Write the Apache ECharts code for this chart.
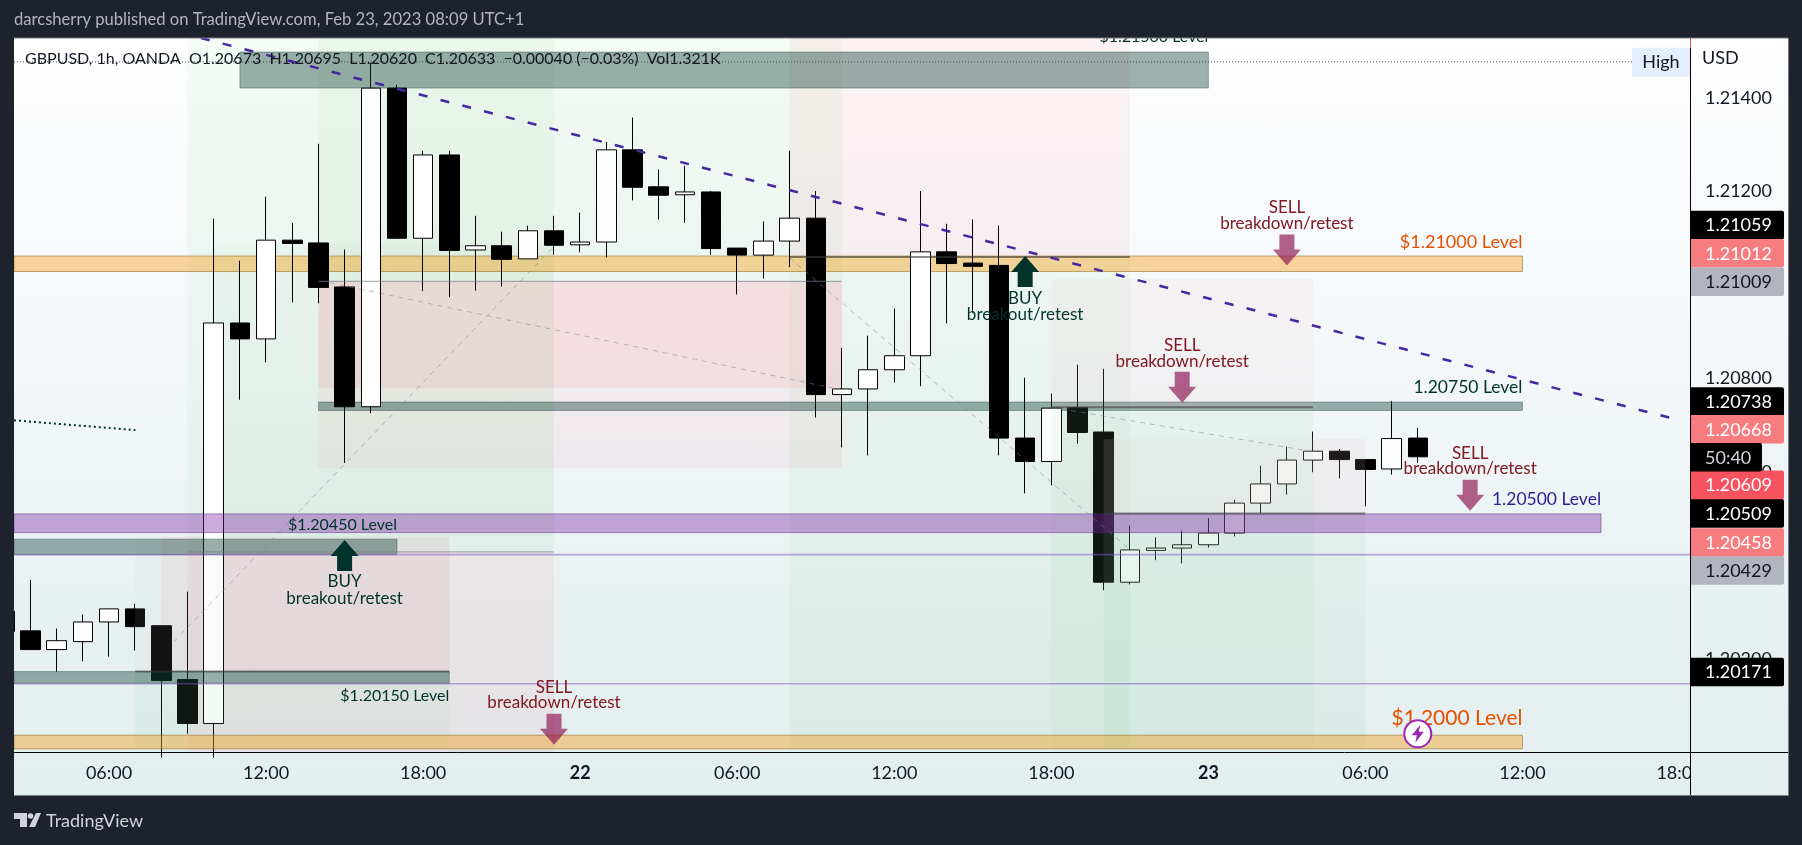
<!DOCTYPE html>
<html>
<head>
<meta charset="utf-8">
<script src="https://cdn.jsdelivr.net/npm/echarts@6/dist/echarts.min.js"></script>
<style>
html,body{margin:0;padding:0;width:1802px;height:845px;background:#1e222d;overflow:hidden}
#panel{position:absolute;left:14px;top:38px;width:1774px;height:757px;background:linear-gradient(180deg,#ffffff 0%,#fbfcfd 12%,#f3f7fa 45%,#e8f1f2 75%,#e3eeef 100%)}
#chart{position:absolute;left:-48px;top:0;width:1850px;height:845px}
</style>
</head>
<body>
<div id="panel"></div>
<div id="chart"></div>
<script>
// hour offset from Feb 21 00:00 UTC+1, open, close, low, high
const candles = [
[2,1.20303,1.20260,1.20260,1.20303],[3,1.20261,1.20221,1.20221,1.20370],[4,1.20221,1.20240,1.20174,1.20266],
[5,1.20238,1.20280,1.20196,1.20296],[6,1.20280,1.20308,1.20206,1.20308],[7,1.20308,1.20270,1.20219,1.20319],
[8,1.20272,1.20155,1.19990,1.20272],[9,1.20157,1.20063,1.20041,1.20345],[10,1.20063,1.20919,1.19990,1.21142],
[11,1.20919,1.20885,1.20755,1.21052],[12,1.20885,1.21096,1.20835,1.21189],[13,1.21096,1.21089,1.20963,1.21133],
[14,1.21090,1.20995,1.20961,1.21302],[15,1.20996,1.20740,1.20620,1.21076],[16,1.20740,1.21421,1.20726,1.21475],
[17,1.21421,1.21100,1.21100,1.21428],[18,1.21100,1.21278,1.20987,1.21287],[19,1.21278,1.21074,1.20974,1.21287],
[20,1.21075,1.21084,1.20988,1.21148],[21,1.21084,1.21055,1.20997,1.21114],[22,1.21056,1.21116,1.21056,1.21127],
[23,1.21116,1.21085,1.21065,1.21148],[24,1.21086,1.21092,1.21070,1.21155],[25,1.21092,1.21289,1.21059,1.21306],
[26,1.21289,1.21209,1.21181,1.21358],[27,1.21210,1.21192,1.21140,1.21247],[28,1.21193,1.21199,1.21133,1.21255],
[29,1.21199,1.21078,1.21065,1.21201],[30,1.21079,1.21064,1.20980,1.21079],[31,1.21064,1.21094,1.21014,1.21136],
[32,1.21094,1.21143,1.21038,1.21287],[33,1.21143,1.20766,1.20717,1.21201],[34,1.20766,1.20778,1.20653,1.20866],
[35,1.20778,1.20819,1.20636,1.20892],[36,1.20819,1.20849,1.20792,1.20950],[37,1.20849,1.21071,1.20784,1.21201],
[38,1.21071,1.21046,1.20918,1.21131],[39,1.21047,1.21040,1.20941,1.21140],[40,1.21042,1.20673,1.20636,1.21127],
[41,1.20673,1.20623,1.20555,1.20802],[42,1.20623,1.20737,1.20572,1.20768],[43,1.20738,1.20685,1.20661,1.20830],
[44,1.20686,1.20365,1.20348,1.20821],[45,1.20365,1.20434,1.20360,1.20486],[46,1.20433,1.20438,1.20412,1.20461],
[47,1.20438,1.20445,1.20405,1.20475],[48,1.20445,1.20470,1.20439,1.20502],[49,1.20470,1.20534,1.20463,1.20541],
[50,1.20534,1.20575,1.20513,1.20614],[51,1.20575,1.20626,1.20552,1.20655],[52,1.20626,1.20645,1.20600,1.20687],
[53,1.20645,1.20627,1.20587,1.20650],[54,1.20627,1.20606,1.20527,1.20627],[55,1.20607,1.20672,1.20595,1.20752],
[56,1.20673,1.20633,1.20620,1.20695]
];
const timeLabels = ['21','06:00','12:00','18:00','22','06:00','12:00','18:00','23','06:00','12:00','18:00'];
const priceStep = 0.002;
const priceMin = 1.2, priceMax = 1.21528, hourMin = 0, hourMax = 66.4, leftHour = 2.37;

// [hourFrom, hourTo, priceTop, priceBottom]
const greenUnder = [[9,23,1.21528,1.20430],[14,34,1.21528,1.21008],[32,45,1.21060,1.20009]];
const greenSoft = [[10,23,1.21087,1.20462]];
const pinkUnder = [[9,23,1.20430,1.20000],[14,34,1.21008,1.20608],[32,45,1.21528,1.21060],[8,19,1.20462,1.20174]];
const pinkStrong = [[14,34,1.21008,1.20780]];
const greenOver = [[42,52,1.20739,1.20009],[44,54,1.20512,1.20009],[7,19,1.20174,1.20009]];
const pinkOver = [[42,52,1.21013,1.20739],[44,54,1.20671,1.20512]];
const grayOver = [[7,19,1.20462,1.20174]];
const bandsUnder = [[14,60,1.20750,1.20732]];
const darkBands = [[11,48,1.21498,1.21421],[leftHour,17,1.20457,1.20424],[leftHour,19,1.20174,1.20149]];
const orangeUnder = [[leftHour,60,1.21062,1.21029]];
const orangeBands = [[leftHour,60,1.20038,1.20009]];
const purpleBands = [[leftHour,63,1.20511,1.20471]];

// [hourFrom, priceFrom, hourTo, priceTo]
const purpleLines = [[leftHour,1.20424,hourMax,1.20424],[leftHour,1.20148,hourMax,1.20148]];
const highLine = [[leftHour,1.21477,64.2,1.21477]];
const dottedLine = [[leftHour,1.20711,7.01,1.20690]];
const trendLine = [[9.51,1.21528,65.94,1.20712]];
const pathLines = [[8.48,1.20238,23,1.21083],[14.44,1.21005,33.64,1.20780],[32,1.21058,45,1.20435],[42,1.20739,52,1.20644]];
const entryLines = [[9,1.20430,23,1.20430],[14,1.21008,34,1.21008]];
const entryLinesDark = [[32,1.21060,45,1.21060],[42,1.20739,52,1.20739],[44,1.20512,54,1.20512],[7,1.20174,19,1.20174]];

// [hour, price, text]
const sellTexts = [[51,1.21166,'SELL'],[51,1.21131,'breakdown/retest'],[47,1.20871,'SELL'],[47,1.20837,'breakdown/retest'],
[23,1.20141,'SELL'],[23,1.20107,'breakdown/retest'],[58,1.20641,'SELL'],[58,1.20607,'breakdown/retest']];
const buyTexts = [[41,1.20972,'BUY'],[41,1.20938,'breakout/retest'],[15,1.20366,'BUY'],[15,1.20331,'breakout/retest']];
const sellArrows = [[51,1.21108],[47,1.20815],[23,1.20084],[58,1.20584]];
const buyArrows = [[41,1.21062],[15,1.20455]];
// [hour at right end, price, text]
const greenLevels = [[48,1.21531,'$1.21500 Level'],[17,1.20488,'$1.20450 Level'],[19,1.20123,'$1.20150 Level']];
const greenLevelsBig = [[60,1.20781,'1.20750 Level']];
const orangeLevels = [[60,1.21091,'$1.21000 Level']];
const orangeBigLevels = [[60,1.20075,'$1.2000 Level']];
const purpleLevels = [[63,1.20541,'1.20500 Level']];
const boltMark = [[56,1.20041]];

// [price position in the scale column, text]
const blackTags = [[1.21128,'1.21059'],[1.20751,'1.20738'],[1.20512,'1.20509'],[1.20173,'1.20171']];
const salmonTags = [[1.21068,'1.21012'],[1.20692,'1.20668'],[1.20450,'1.20458']];
const redTags = [[1.20573,'1.20609']];
const grayTags = [[1.21007,'1.21009'],[1.20390,'1.20429']];
const timerTags = [[1.20632,'50:40']];

const headerText = 'darcsherry published on TradingView.com, Feb 23, 2023 08:09 UTC+1';
const legendText = 'GBPUSD, 1h, OANDA  O1.20673  H1.20695  L1.20620  C1.20633  −0.00040 (−0.03%)  Vol1.321K';

const FONT = 'Lato, "Noto Sans", sans-serif';
const chart = echarts.init(document.getElementById('chart'), null, {renderer:'canvas', width:1850, height:845});

function rects(name, data, fill, stroke, z){
  return {name, type:'custom', data, z, coordinateSystem:'cartesian2d', clip:true, silent:true,
    encode:{x:[0,1],y:[2,3]},
    renderItem(p, api){
      const a=api.coord([api.value(0),api.value(2)]), b=api.coord([api.value(1),api.value(3)]);
      return {type:'rect',shape:{x:a[0],y:a[1],width:b[0]-a[0],height:b[1]-a[1]},
        style:{fill,stroke:stroke||null,lineWidth:stroke?1:0}};
    }};
}
function lines(name, data, stroke, width, dash, z){
  return {name, type:'custom', data, z, clip:true, silent:true, encode:{x:[0,2],y:[1,3]},
    renderItem(p, api){
      const a=api.coord([api.value(0),api.value(1)]), b=api.coord([api.value(2),api.value(3)]);
      return {type:'line',shape:{x1:a[0],y1:a[1],x2:b[0],y2:b[1]},style:{stroke,lineWidth:width,lineDash:dash||null,fill:null}};
    }};
}
function texts(name, data, fill, size, align, z){
  return {name, type:'custom', data, z, clip:false, silent:true, encode:{x:0,y:1},
    renderItem(p, api){
      const a=api.coord([api.value(0),api.value(1)]);
      return {type:'text',style:{x:a[0],y:a[1],text:data[p.dataIndex][2],fill,font:size+'px '+FONT,align,verticalAlign:'middle'}};
    }};
}
function arrows(name, data, fill, up, z){
  return {name, type:'custom', data, z, clip:false, silent:true, encode:{x:0,y:1},
    renderItem(p, api){
      const a=api.coord([api.value(0),api.value(1)]), x=a[0], y=a[1];
      const pts = up
        ? [[x,y],[x+14,y+16],[x+7.5,y+16],[x+7.5,y+31],[x-7.5,y+31],[x-7.5,y+16],[x-14,y+16]]
        : [[x-7.5,y],[x+7.5,y],[x+7.5,y+15],[x+14,y+15],[x,y+31],[x-14,y+15],[x-7.5,y+15]];
      return {type:'polygon',shape:{points:pts},style:{fill}};
    }};
}
function tags(name, data, fill, color, width, z){
  return {name, type:'custom', data:data.map(d=>[hourMax,d[0],d[1]]), z, clip:false, silent:true, encode:{x:0,y:1},
    renderItem(p, api){
      const a=api.coord([api.value(0),api.value(1)]);
      return {type:'group',children:[
        {type:'rect',shape:{x:a[0],y:a[1]-14.3,width,height:28.6,r:[0,2,2,0]},style:{fill}},
        {type:'text',style:{x:a[0]+15,y:a[1]+0.5,text:data[p.dataIndex][1],fill:color,font:'18px '+FONT,verticalAlign:'middle',align:'left'}}
      ]};
    }};
}

const option = {
  animation:false,
  backgroundColor:'transparent',
  grid:{left:0,right:112,top:38,bottom:92,containLabel:false},
  xAxis:{type:'value',min:hourMin,max:hourMax,interval:6,splitLine:{show:false},
    axisLine:{show:false},axisTick:{show:false},
    axisLabel:{margin:11,showMinLabel:false,showMaxLabel:false,hideOverlap:false,color:'#131722',fontFamily:FONT,fontSize:18,
      formatter(v){const s=timeLabels[v/6]; if(!s) return ''; return s.length<3?'{d|'+s+'}':s;},
      rich:{d:{fontWeight:'bold',fontFamily:FONT,fontSize:18,color:'#131722'}}}},
  yAxis:{type:'value',position:'right',min:priceMin,max:priceMax,interval:priceStep,scale:true,splitLine:{show:false},
    axisLine:{show:true,onZero:false,lineStyle:{color:'#000',width:1}},axisTick:{show:false},
    axisLabel:{margin:15,showMinLabel:false,showMaxLabel:false,color:'#131722',fontFamily:FONT,fontSize:18,
      formatter:v=>v.toFixed(5)}},
  series:[
    rects('greenUnder',greenUnder,'rgba(76,175,80,0.055)',null,1),
    rects('greenSoft',greenSoft,'rgba(76,175,80,0.035)',null,1),
    rects('pinkUnder',pinkUnder,'rgba(242,54,69,0.06)',null,1),
    rects('pinkStrong',pinkStrong,'rgba(242,54,69,0.08)',null,1),
    rects('bandsUnder',bandsUnder,'rgba(0,51,42,0.38)','rgba(0,51,42,0.35)',1),
    rects('orangeUnder',orangeUnder,'rgba(245,150,0,0.38)','rgba(150,110,40,0.6)',1),
    {name:'GBPUSD',type:'candlestick',data:candles,z:2,barWidth:20,silent:true,
      encode:{x:0,y:[1,2,3,4]},
      itemStyle:{color:'#ffffff',color0:'#000000',borderColor:'#000000',borderColor0:'#000000',borderWidth:1}},
    rects('greenOver',greenOver,'rgba(150,210,165,0.11)',null,3),
    rects('pinkOver',pinkOver,'rgba(228,195,190,0.13)',null,3),
    rects('grayOver',grayOver,'rgba(190,195,190,0.09)',null,3),
    rects('darkBands',darkBands,'rgba(0,51,42,0.38)','rgba(0,51,42,0.35)',4),
    rects('orangeBands',orangeBands,'rgba(245,150,0,0.38)','rgba(150,110,40,0.6)',4),
    rects('purpleBands',purpleBands,'rgba(123,31,162,0.38)','rgba(90,40,130,0.5)',4),
    lines('purpleLines',purpleLines,'rgba(126,87,194,0.5)',1.6,null,5),
    lines('high',highLine,'#444',1,[1,2],5),
    lines('dotted',dottedLine,'#00332a',2,[2,3],5),
    lines('paths',pathLines,'rgba(120,135,140,0.55)',1,[5,5],5),
    lines('entry',entryLines,'rgba(120,123,134,0.6)',1.2,null,5),
    lines('entryDark',entryLinesDark,'rgba(60,60,60,0.6)',2,null,5),
    lines('trend',trendLine,'#4527a0',2.5,[9,13.5],6),
    texts('sell',sellTexts,'#801922',17,'center',7),
    texts('buy',buyTexts,'#00332a',17,'center',7),
    arrows('sellArrows',sellArrows,'rgba(136,14,79,0.65)',false,7),
    arrows('buyArrows',buyArrows,'#00332a',true,7),
    texts('greenLevels',greenLevels,'#00332a',16,'right',7),
    texts('greenLevelsBig',greenLevelsBig,'#00332a',17.5,'right',7),
    texts('orangeLevels',orangeLevels,'#e65100',18,'right',7),
    texts('orangeBig',orangeBigLevels,'#e65100',21,'right',7),
    texts('purpleLevels',purpleLevels,'#311b92',17.5,'right',7),
    {name:'bolt',type:'custom',data:boltMark,z:8,clip:false,silent:true,encode:{x:0,y:1},
      renderItem(p,api){
        const a=api.coord([api.value(0),api.value(1)]),x=a[0],y=a[1];
        return {type:'group',children:[
          {type:'circle',shape:{cx:x,cy:y,r:13.5},style:{fill:'#ffffff',stroke:'#9c27b0',lineWidth:2}},
          {type:'polygon',shape:{points:[[x+2.5,y-9],[x-6,y+1.5],[x-1,y+1.5],[x-2.5,y+9],[x+6,y-2],[x+1,y-2]]},style:{fill:'#9c27b0'}}
        ]};
      }},
    tags('blackTags',blackTags,'#000000','#ffffff',94,10),
    tags('salmonTags',salmonTags,'#f77c80','#ffffff',94,10),
    tags('redTags',redTags,'#f7525f','#ffffff',94,10),
    tags('grayTags',grayTags,'#b2b5be','#131722',94,10),
    tags('timer',timerTags,'#000000','#d1d4dc',72,11)
  ],
  graphic:{elements:[{type:'group',x:48,children:[
    {type:'rect',z:1000,shape:{x:-48,y:0,width:62,height:845},style:{fill:'#1e222d'}},
    {type:'rect',z:1000,shape:{x:-48,y:0,width:1850,height:38},style:{fill:'#1e222d'}},
    {type:'rect',z:1000,shape:{x:1690.5,y:753,width:97.5,height:42},style:{fill:'#e4eeef'}},
    {type:'rect',z:1000,shape:{x:1788,y:0,width:14,height:845},style:{fill:'#1e222d'}},
    {type:'line',z:1001,shape:{x1:14,y1:752.5,x2:1788,y2:752.5},style:{stroke:'#000',lineWidth:1}},
    {type:'line',z:1001,shape:{x1:1690.5,y1:38,x2:1690.5,y2:795},style:{stroke:'#000',lineWidth:1}},
    {type:'line',z:1002,shape:{x1:1690.5,y1:38,x2:1690.5,y2:48},style:{stroke:'#f7525f',lineWidth:1}},
    {type:'rect',z:1001,shape:{x:14,y:795,width:1774,height:1},style:{fill:'#787b86'}},
    {type:'rect',z:1001,shape:{x:14,y:37.5,width:1774,height:1},style:{fill:'#787b86'}},
    {type:'rect',z:1001,shape:{x:1788,y:38,width:1,height:758},style:{fill:'#787b86'}},
    {type:'text',z:1002,style:{x:14,y:20,text:headerText,fill:'#b2b5be',font:'16.6px '+FONT,verticalAlign:'middle'}},
    {type:'text',z:1002,style:{x:25,y:59,text:legendText,fill:'#131722',font:'16px '+FONT,verticalAlign:'middle'}},
    {type:'rect',z:1002,shape:{x:1632,y:47.7,width:58,height:29,r:[2,0,0,2]},style:{fill:'#e3effd'}},
    {type:'text',z:1003,style:{x:1661,y:62,text:'High',fill:'#131722',font:'18px '+FONT,align:'center',verticalAlign:'middle'}},
    {type:'text',z:1003,style:{x:1702,y:58,text:'USD',fill:'#131722',font:'18px '+FONT,verticalAlign:'middle'}},
    {type:'polygon',z:1002,shape:{points:[[14,813],[27,813],[27,827],[20,827],[20,819],[14,819]]},style:{fill:'#d1d4dc'}},
    {type:'circle',z:1002,shape:{cx:30.5,cy:816,r:2.8},style:{fill:'#d1d4dc'}},
    {type:'polygon',z:1002,shape:{points:[[36,813],[41,813],[35,827],[29,827]]},style:{fill:'#d1d4dc'}},
    {type:'text',z:1002,style:{x:46,y:821,text:'TradingView',fill:'#d1d4dc',font:'18px '+FONT,verticalAlign:'middle'}}
  ]}]}
};
chart.setOption(option);
</script>
</body>
</html>
